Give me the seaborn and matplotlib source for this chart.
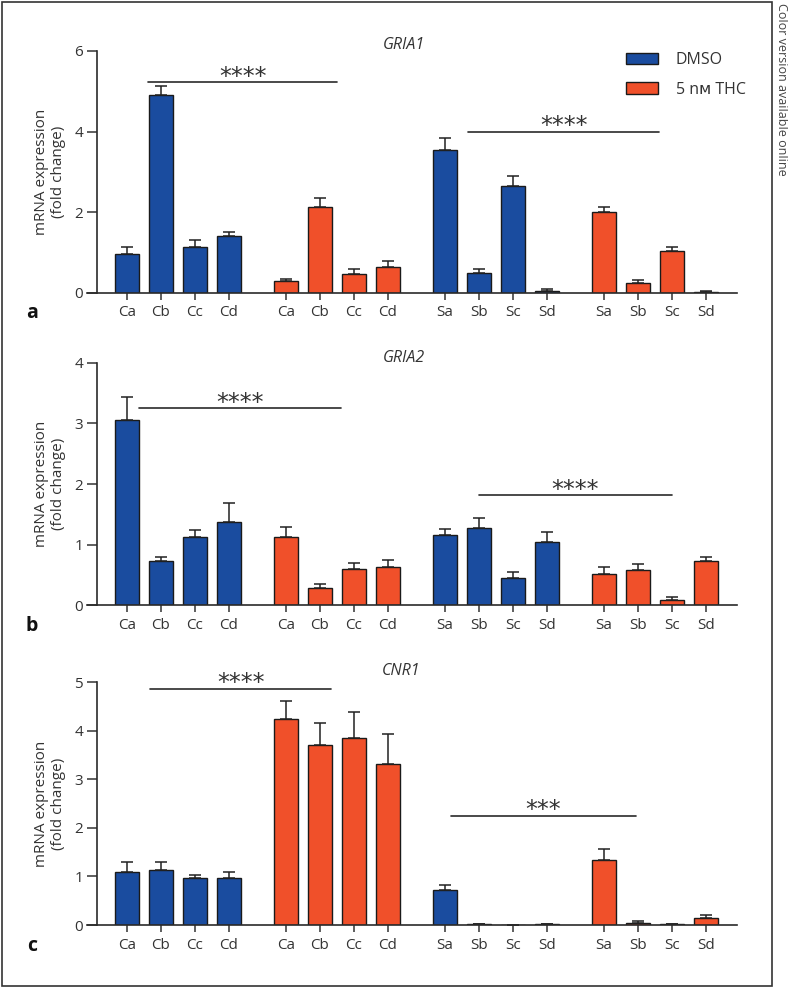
import numpy as np
import pandas as pd
import matplotlib
matplotlib.use("Agg")
import matplotlib.pyplot as plt
import seaborn as sns
from matplotlib.patches import Rectangle

# ---------------- data ----------------
labels_C = ["Ca", "Cb", "Cc", "Cd"]
labels_S = ["Sa", "Sb", "Sc", "Sd"]
treatments = ["DMSO", "5 n\u1d0d THC"]

gria1_dmso_C = [0.97, 4.90, 1.13, 1.41]
gria1_dmso_C_err = [0.17, 0.22, 0.18, 0.11]
gria1_thc_C = [0.29, 2.13, 0.48, 0.64]
gria1_thc_C_err = [0.06, 0.22, 0.12, 0.16]
gria1_dmso_S = [3.54, 0.49, 2.65, 0.04]
gria1_dmso_S_err = [0.30, 0.10, 0.25, 0.05]
gria1_thc_S = [2.02, 0.26, 1.03, 0.02]
gria1_thc_S_err = [0.10, 0.07, 0.10, 0.04]

gria2_dmso_C = [3.06, 0.73, 1.12, 1.38]
gria2_dmso_C_err = [0.38, 0.06, 0.12, 0.30]
gria2_thc_C = [1.12, 0.28, 0.60, 0.62]
gria2_thc_C_err = [0.17, 0.06, 0.09, 0.12]
gria2_dmso_S = [1.16, 1.28, 0.44, 1.04]
gria2_dmso_S_err = [0.10, 0.15, 0.10, 0.17]
gria2_thc_S = [0.51, 0.58, 0.09, 0.72]
gria2_thc_S_err = [0.12, 0.09, 0.05, 0.07]

cnr1_dmso_C = [1.10, 1.13, 0.97, 0.97]
cnr1_dmso_C_err = [0.19, 0.17, 0.06, 0.13]
cnr1_thc_C = [4.24, 3.71, 3.85, 3.31]
cnr1_thc_C_err = [0.37, 0.44, 0.53, 0.63]
cnr1_dmso_S = [0.72, 0.02, 0.005, 0.015]
cnr1_dmso_S_err = [0.10, 0.01, 0.005, 0.005]
cnr1_thc_S = [1.34, 0.05, 0.02, 0.14]
cnr1_thc_S_err = [0.22, 0.04, 0.01, 0.06]

titles = ["GRIA1", "GRIA2", "CNR1"]
panel_letters = ["a", "b", "c"]
y_ticks = [[0, 2, 4, 6], [0, 1, 2, 3, 4], [0, 1, 2, 3, 4, 5]]

# significance annotations: (x_start, x_end, y, stars)
sig_a = [(0.62, 6.18, 5.22, "****"), (10.03, 15.65, 4.00, "****")]
sig_b = [(0.35, 6.29, 3.25, "****"), (10.36, 16.02, 1.82, "****")]
sig_c = [(0.68, 6.00, 4.86, "****"), (9.53, 14.97, 2.25, "***")]

# ---------------- style ----------------
sns.set_style("ticks")
plt.rcParams["font.family"] = ["Open Sans", "DejaVu Sans"]
TXT = "#333333"
BLUE = "#1a4c9f"
ORANGE = "#f0502a"
palette = {treatments[0]: BLUE, treatments[1]: ORANGE}

W, H = 788, 988
fig = plt.figure(figsize=(W / 100, H / 100), dpi=100)

GAP = 4.676  # group stride (bars spaced 1 unit)


def build(dC, dCe, tC, tCe, dS, dSe, tS, tSe):
    rows = []
    blocks = [(dC, dCe, labels_C, treatments[0]), (tC, tCe, labels_C, treatments[1]),
              (dS, dSe, labels_S, treatments[0]), (tS, tSe, labels_S, treatments[1])]
    for g, (vals, errs, labs, tr) in enumerate(blocks):
        for i, (v, e, l) in enumerate(zip(vals, errs, labs)):
            rows.append({"pos": round(g * GAP + i, 3), "label": l, "value": v,
                         "err": e, "treatment": tr})
    return pd.DataFrame(rows)


data = [
    build(gria1_dmso_C, gria1_dmso_C_err, gria1_thc_C, gria1_thc_C_err,
          gria1_dmso_S, gria1_dmso_S_err, gria1_thc_S, gria1_thc_S_err),
    build(gria2_dmso_C, gria2_dmso_C_err, gria2_thc_C, gria2_thc_C_err,
          gria2_dmso_S, gria2_dmso_S_err, gria2_thc_S, gria2_thc_S_err),
    build(cnr1_dmso_C, cnr1_dmso_C_err, cnr1_thc_C, cnr1_thc_C_err,
          cnr1_dmso_S, cnr1_dmso_S_err, cnr1_thc_S, cnr1_thc_S_err),
]
sigs = [sig_a, sig_b, sig_c]

# axes pixel boxes (top, bottom)
boxes = [(51, 293), (363, 605), (682, 925)]
AX_L, AX_R = 87, 737
title_pos = [(404, 45), (404, 358), (401, 671)]
letter_y = [313, 626, 946]

for k, df in enumerate(data):
    top, bot = boxes[k]
    ax = fig.add_axes([AX_L / W, 1 - bot / H, (AX_R - AX_L) / W, (bot - top) / H])
    sns.barplot(data=df, x="pos", y="value", hue="treatment", palette=palette,
                native_scale=True, dodge=False, width=0.7, edgecolor="#1a1a1a",
                linewidth=1.0, errorbar=None, saturation=1, legend=(k == 0), ax=ax)
    ax.errorbar(df["pos"], df["value"], yerr=[np.zeros(len(df)), df["err"]],
                fmt="none", ecolor="#222222", elinewidth=1.1, capsize=4.2,
                capthick=1.1, zorder=1)
    ax.set_xlim(-1.176, 17.94)
    ax.set_ylim(0, y_ticks[k][-1])
    ax.set_yticks(y_ticks[k])
    ax.set_xticks(df["pos"])
    ax.set_xticklabels(df["label"])
    ax.set_xlabel("")
    ax.set_ylabel("mRNA expression\n(fold change)", fontsize=11, color=TXT,
                  labelpad=6)
    for s in ["top", "right"]:
        ax.spines[s].set_visible(False)
    ax.spines["left"].set_position(("data", -0.882))
    for s in ["left", "bottom"]:
        ax.spines[s].set_linewidth(1.2)
        ax.spines[s].set_color("#2a2a2a")
    ax.tick_params(axis="y", length=7, width=1.1, labelsize=11, colors=TXT, pad=3)
    ax.tick_params(axis="x", length=5, width=1.1, labelsize=11, colors=TXT, pad=4)
    ax.set_facecolor("none")

    for (x1, x2, y, st) in sigs[k]:
        ax.plot([x1, x2], [y, y], color="#2a2a2a", lw=1.2, clip_on=False)
        ax.annotate(st, xy=((x1 + x2) / 2, y), xytext=(0, -1.2),
                    textcoords="offset points", ha="center", va="baseline",
                    fontsize=17, color=TXT, family=["DejaVu Sans"],
                    annotation_clip=False)

    tx, ty = title_pos[k]
    fig.text(tx / W, 1 - ty / H, titles[k], ha="center", va="center",
             fontsize=11.5, style="italic", color=TXT)
    fig.text(32 / W, 1 - letter_y[k] / H, panel_letters[k], ha="center",
             va="center", fontsize=14, fontweight="bold", color="#111111")

    if k == 0:
        sns.move_legend(ax, "upper left", bbox_to_anchor=(626 / W, 1 - 52 / H),
                        bbox_transform=fig.transFigure, frameon=False, title=None,
                        fontsize=11.5, handlelength=2.0, handleheight=0.7,
                        labelspacing=0.85, handletextpad=1.1, borderpad=0,
                        borderaxespad=0)
        for t in ax.get_legend().get_texts():
            t.set_color(TXT)

# border and side note
fig.add_artist(Rectangle((2 / W, 2 / H), 770 / W, 984 / H, transform=fig.transFigure,
                         fill=False, edgecolor="#333333", lw=1.2))
fig.text(781 / W, 1 - 3 / H, "Color version available online", rotation=270,
         ha="center", va="top", fontsize=9, color="#444444")

fig.savefig("out.png", dpi=100)
